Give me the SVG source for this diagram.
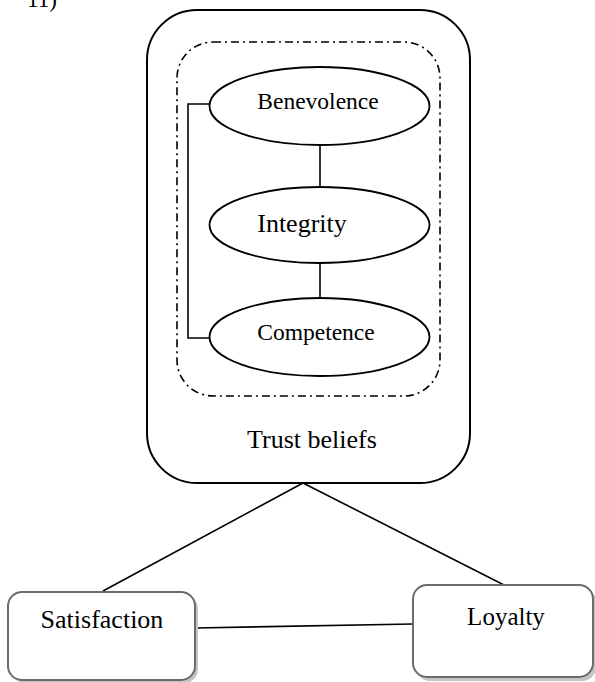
<svg xmlns="http://www.w3.org/2000/svg" width="595" height="682" viewBox="0 0 595 682">
<style>
text{font-family:"Liberation Serif","Times New Roman",serif;fill:#000;text-anchor:middle}
.solid{fill:#fff;stroke:#000;stroke-width:2}
.dd{fill:none;stroke:#000;stroke-width:1.6;stroke-dasharray:8 4 2 4}
.ell{fill:#fff;stroke:#000;stroke-width:1.8}
.box{fill:#fff;stroke:#6b6b6b;stroke-width:2}
.shadow{fill:#c4c4c4}
.conn line,.conn polyline{stroke:#000;stroke-width:1.6;fill:none}
</style>
<text x="27" y="7" style="text-anchor:start" font-size="23">11)</text>
<g id="trust-beliefs">
<rect class="solid" x="147" y="10" width="323" height="473" rx="50" ry="50"/>
<rect class="dd" x="177" y="42" width="263" height="354" rx="36" ry="36"/>
<text x="312" y="448" font-size="26">Trust beliefs</text>
</g>
<g class="conn" id="connectors">
<polyline points="209,104 188,104 188,338 209,338"/>
<line x1="320" y1="146" x2="320" y2="187"/>
<line x1="320" y1="263" x2="320" y2="298"/>
<line x1="303" y1="483" x2="103" y2="591"/>
<line x1="303" y1="483" x2="504" y2="585"/>
<line x1="195" y1="628" x2="413" y2="624"/>
</g>
<g id="benevolence">
<ellipse class="ell" cx="319.5" cy="106" rx="110" ry="39"/>
<text x="318" y="109" font-size="23.5">Benevolence</text>
</g>
<g id="integrity">
<ellipse class="ell" cx="319.5" cy="225" rx="110" ry="38"/>
<text x="302" y="232" font-size="26">Integrity</text>
</g>
<g id="competence">
<ellipse class="ell" cx="319.5" cy="337" rx="110" ry="39"/>
<text x="316" y="340" font-size="23.5">Competence</text>
</g>
<g id="satisfaction">
<rect class="shadow" x="11" y="595" width="187" height="88" rx="14" ry="14"/>
<rect class="box" x="8" y="592" width="187" height="88" rx="14" ry="14"/>
<text x="102" y="628" font-size="26">Satisfaction</text>
</g>
<g id="loyalty">
<rect class="shadow" x="416" y="588" width="180" height="93" rx="14" ry="14"/>
<rect class="box" x="413" y="585" width="180" height="92" rx="14" ry="14"/>
<text x="506" y="625" font-size="25">Loyalty</text>
</g>
</svg>
